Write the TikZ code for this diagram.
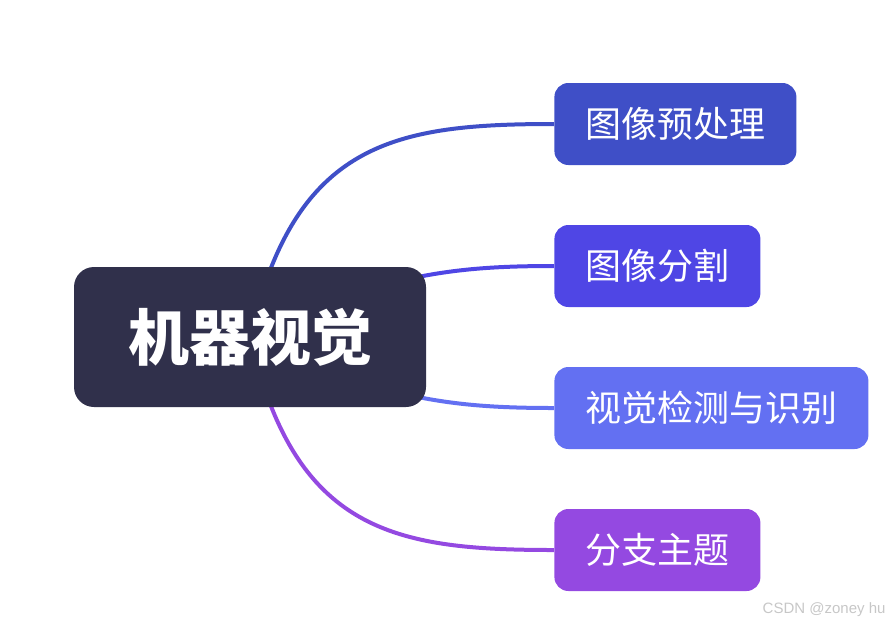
\documentclass[tikz,border=0pt]{standalone}
\usepackage{fontspec}
\newfontfamily\cjk{Noto Sans CJK SC}
\setsansfont{Liberation Sans}
\usepackage{tikz}
\usetikzlibrary{positioning,backgrounds}

\definecolor{rootcol}{HTML}{30304B}
\definecolor{onecol}{HTML}{3F4FC7}
\definecolor{twocol}{HTML}{4F46E5}
\definecolor{threecol}{HTML}{6370F2}
\definecolor{fourcol}{HTML}{9449E1}

\tikzset{
	mainbox/.style={rectangle, rounded corners=20pt, fill=rootcol, text=white,
		minimum width=352pt, minimum height=140pt, font=\cjk\bfseries\fontsize{61}{63}\selectfont},
	subbox/.style={rectangle, rounded corners=14pt, text=white, inner xsep=31pt,
		minimum height=82pt, font=\cjk\fontsize{36}{40}\selectfont},
	link/.style={line width=4pt},
}

\begin{document}
\begin{tikzpicture}[x=1pt,y=-1pt]
		\useasboundingbox (0,0) rectangle (893,625);
		% Define nodes
		\node[mainbox] (R) at (250,337) {机器视觉};
		\node[subbox, fill=onecol, right=128pt of R, yshift=213pt] (B1) {图像预处理};
		\node[subbox, fill=twocol, right=128pt of R, yshift=71pt] (B2) {图像分割};
		\node[subbox, fill=threecol, right=128pt of R, yshift=-71pt] (B3) {视觉检测与识别};
		\node[subbox, fill=fourcol, right=128pt of R, yshift=-213pt] (B4) {分支主题};
		\node[anchor=east, text=black!22, font=\sffamily\fontsize{15}{17}\selectfont] (W) at (889,610) {CSDN @zoney hu};

		% Connect the nodes
		\begin{scope}[on background layer]
			\draw[link, onecol] (R.center) .. controls +(45,-195) and +(-160,0) .. (B1.west);
			\draw[link, twocol] (R.center) .. controls +(130,-62) and +(-104,0) .. (B2.west);
			\draw[link, threecol] (R.center) .. controls +(130,62) and +(-104,0) .. (B3.west);
			\draw[link, fourcol] (R.center) .. controls +(45,195) and +(-160,0) .. (B4.west);
		\end{scope}
	\end{tikzpicture}
\end{document}
